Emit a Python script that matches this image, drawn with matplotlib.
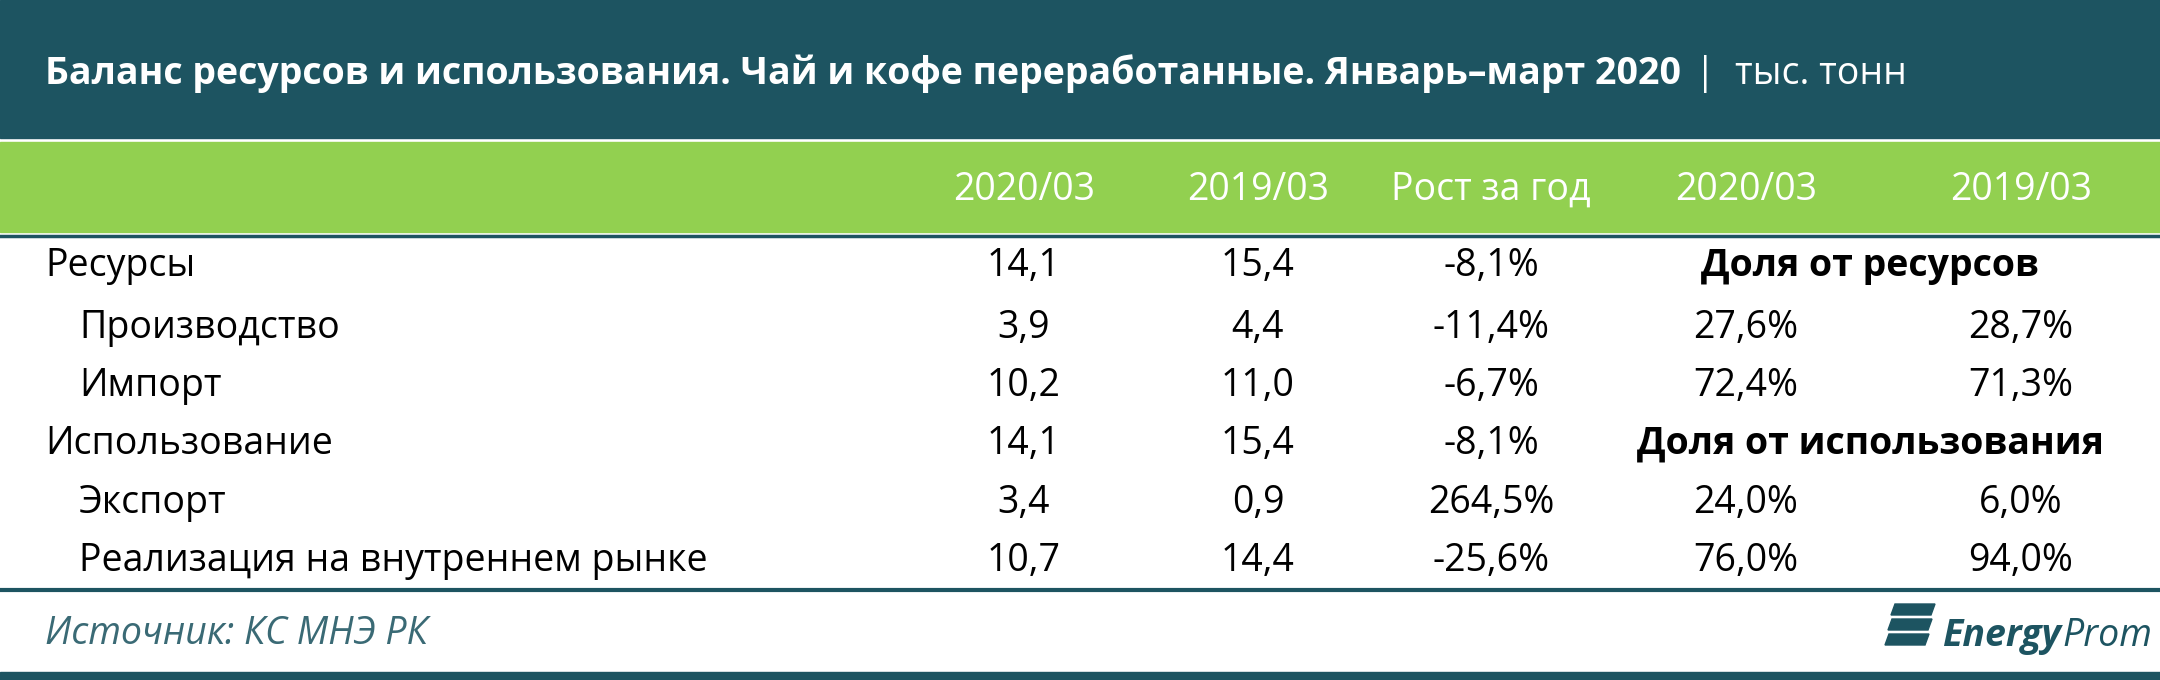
import matplotlib.pyplot as plt
from matplotlib.patches import Rectangle, Polygon

plt.rcParams["font.family"] = ["Open Sans", "DejaVu Sans"]

TEAL = "#1d5461"
GREEN = "#92d050"

title = "Баланс ресурсов и использования. Чай и кофе переработанные. Январь–март 2020"
unit = "тыс. тонн"
columns = ["2020/03", "2019/03", "Рост за год", "2020/03", "2019/03"]
rows = ["Ресурсы", "Производство", "Импорт", "Использование", "Экспорт",
        "Реализация на внутреннем рынке"]
indent = [False, True, True, False, True, True]
val_2020 = ["14,1", "3,9", "10,2", "14,1", "3,4", "10,7"]
val_2019 = ["15,4", "4,4", "11,0", "15,4", "0,9", "14,4"]
growth = ["-8,1%", "-11,4%", "-6,7%", "-8,1%", "264,5%", "-25,6%"]
share_2020 = [None, "27,6%", "72,4%", None, "24,0%", "76,0%"]
share_2019 = [None, "28,7%", "71,3%", None, "6,0%", "94,0%"]
share_headers = {0: "Доля от ресурсов", 3: "Доля от использования"}
source = "Источник: КС МНЭ РК"

FS = 27

fig = plt.figure(figsize=(21.6, 6.8), dpi=100)
ax = fig.add_axes([0, 0, 1, 1])
ax.set_xlim(0, 2160)
ax.set_ylim(680, 0)
ax.axis("off")
renderer = fig.canvas.get_renderer()


def right_edge(t):
    bb = t.get_window_extent(renderer)
    return ax.transData.inverted().transform((bb.x1, bb.y0))[0]


ax.add_patch(Rectangle((0, 0), 2160, 138, color=TEAL))
t = ax.text(45, 74, title, color="white", fontsize=27, fontweight="bold", va="center")
ax.text(right_edge(t) + 14, 74, "|  " + unit, color="white", fontsize=27, va="center")

ax.add_patch(Rectangle((0, 142), 2160, 90, color=GREEN))
col_x = [1024, 1258, 1491, 1746, 2021]
for x, c in zip(col_x, columns):
    ax.text(x, 190, c, color="white", fontsize=FS, ha="center", va="center")

row_y = [266, 328, 386, 444, 503, 561]
for i, y in enumerate(row_y):
    ax.text(79 if indent[i] else 45, y, rows[i], fontsize=FS, va="center")
    for x, v in zip(col_x[:3], [val_2020[i], val_2019[i], growth[i]]):
        ax.text(x, y, v, fontsize=FS, ha="center", va="center")
    if i in share_headers:
        ax.text(1870, y, share_headers[i], fontsize=FS, fontweight="bold",
                ha="center", va="center")
    else:
        ax.text(col_x[3], y, share_2020[i], fontsize=FS, ha="center", va="center")
        ax.text(col_x[4], y, share_2019[i], fontsize=FS, ha="center", va="center")

ax.plot([0, 2160], [236, 236], color=TEAL, lw=2.5)
ax.plot([0, 2160], [590, 590], color=TEAL, lw=3)
ax.add_patch(Rectangle((0, 672), 2160, 8, color=TEAL))

ax.text(45, 634, source, fontsize=FS, style="italic", color="#3a6a75", va="center")

# logo
for k in range(3):
    y0 = 604 + k * 15
    ax.add_patch(Polygon([(1895 - k * 3, y0), (1935 - k * 3, y0), (1931 - k * 3, y0 + 11),
                          (1891 - k * 3, y0 + 11)], color=TEAL))
t = ax.text(1942, 636, "Energy", fontsize=27, fontweight="bold", style="italic",
            color=TEAL, va="center")
ax.text(right_edge(t) + 1, 636, "Prom", fontsize=27, style="italic", color=TEAL, va="center")

fig.savefig("out.png", dpi=100)
